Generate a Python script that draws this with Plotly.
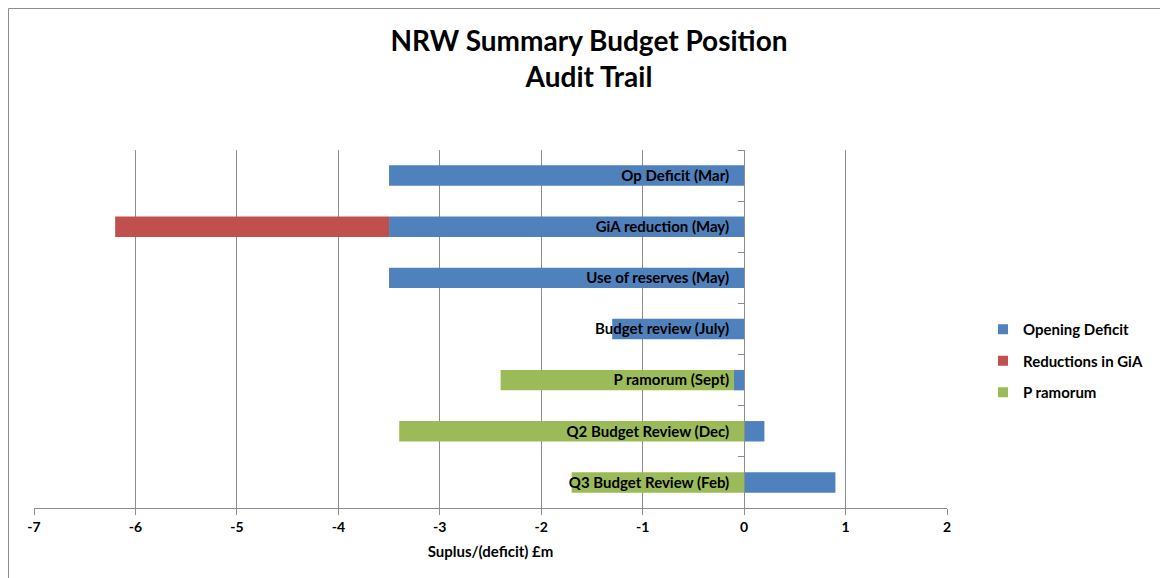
import plotly.graph_objects as go

categories = ["Op Deficit (Mar)", "GiA reduction (May)", "Use of reserves (May)",
              "Budget review (July)", "P ramorum (Sept)", "Q2 Budget Review (Dec)",
              "Q3 Budget Review (Feb)"]
opening_deficit = [-3.5, -3.5, -3.5, -1.3, -0.1, 0.2, 0.9]
reductions_gia = [0, -2.7, 0, 0, 0, 0, 0]
p_ramorum = [0, 0, 0, 0, -2.3, -3.4, -1.7]
x_ticks = [-7, -6, -5, -4, -3, -2, -1, 0, 1, 2]
x_tick_text = ["-7", "-6", "-5", "-4", "-3", "-2", "-1", "0", "1", "2"]
series_names = ["Opening Deficit", "Reductions in GiA", "P ramorum"]
series_colors = ["#4F81BD", "#C0504D", "#9BBB59"]

FONT = "Lato, 'Noto Sans', sans-serif"

fig = go.Figure()
for name, vals, col in zip(series_names, [opening_deficit, reductions_gia, p_ramorum], series_colors):
    fig.add_trace(go.Bar(y=categories, x=vals, orientation="h", name=name,
                         marker=dict(color=col, line=dict(width=0)), showlegend=False))
# legend-only entries with small square swatches
for i, (name, col) in enumerate(zip(series_names, series_colors)):
    fig.add_trace(go.Scatter(x=[None], y=[None], mode="markers", name=name,
                             legendgroup=f"g{i}",
                             marker=dict(symbol="square", size=10, color=col)))

# page offset of 8px (body margin) compensated
OFF = 8
W, H = 1168 - OFF, 578 - OFF
L, R, T, B = 34 - OFF, 221, 150 - OFF, 70
pw = W - L - R
ph = H - T - B

def px_x(p):
    return (p - OFF - L) / pw

def px_y(p):
    return (H + OFF - B - p) / ph

fig.update_layout(
    width=W, height=H,
    barmode="relative", bargap=0.6,
    plot_bgcolor="white", paper_bgcolor="white",
    margin=dict(l=L, r=R, t=T, b=B),
    font=dict(family=FONT, size=14, color="black"),
    title=dict(text="<b>NRW Summary Budget Position<br>Audit Trail</b>",
               x=(589 - OFF) / W, xanchor="center", y=1 - (51 - OFF) / H, yanchor="middle",
               font=dict(family=FONT, size=28, color="black")),
    legend=dict(x=px_x(983), xanchor="left", y=px_y(313), yanchor="top",
                font=dict(family=FONT, size=15, color="black", weight="bold"),
                tracegroupgap=9, itemwidth=30, bgcolor="rgba(0,0,0,0)"),
    showlegend=True,
    xaxis=dict(range=[-7, 2], tickvals=x_ticks, ticktext=x_tick_text,
               showgrid=True, gridcolor="#8C8C8C",
               gridwidth=1, zeroline=False, showline=True, linecolor="#8C8C8C",
               ticks="outside", ticklen=6, tickcolor="#8C8C8C",
               tickfont=dict(family=FONT, size=14, color="black", weight="bold"),
               title=dict(text="<b>Suplus/(deficit) £m</b>", standoff=12,
                          font=dict(family=FONT, size=15, color="black"))),
    yaxis=dict(autorange="reversed", anchor="free", position=7 / 9,
               showline=True, linecolor="#8C8C8C", showgrid=False, zeroline=False,
               ticks="outside", ticklen=6, tickcolor="#8C8C8C", tickson="boundaries",
               ticklabelstandoff=12,
               tickfont=dict(family=FONT, size=15, color="black", weight="bold"),
               layer="above traces"),
)

fig.add_shape(type="rect", xref="paper", yref="paper",
              x0=px_x(OFF + 0.5), x1=px_x(1166), y0=px_y(600), y1=px_y(OFF + 0.5),
              line=dict(color="#8C8C8C", width=1), fillcolor="rgba(0,0,0,0)", layer="below")

fig.write_html("out.html")
